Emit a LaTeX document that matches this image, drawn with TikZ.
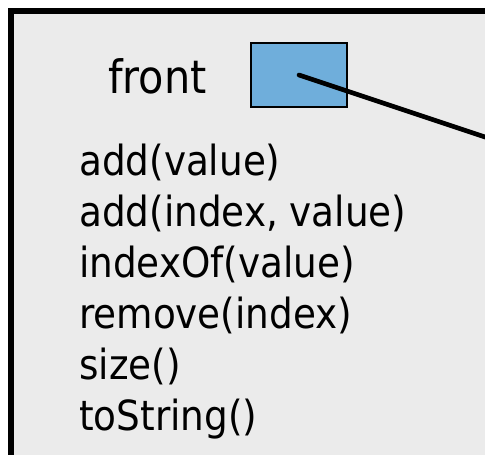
\documentclass[tikz,border=0pt]{standalone}
\usepackage{fontspec}
\setmainfont{DejaVu Sans Condensed}
\definecolor{panelgray}{HTML}{EBEBEB}
\definecolor{cellblue}{HTML}{6FAEDB}
\begin{document}
\begin{tikzpicture}[x=1pt,y=-1pt,
  txt/.style={anchor=base west,inner sep=0pt,font=\fontsize{41.5}{49}\selectfont},
  lbl/.style={anchor=base west,inner sep=0pt,font=\fontsize{46}{54}\selectfont},
  cell/.style={draw=black,line width=2pt,fill=cellblue,minimum width=96pt,minimum height=64pt,inner sep=0pt},
  ptr/.style={line width=4.6pt,line cap=round}]
\useasboundingbox (0,0) rectangle (485,455);
\clip (0,0) rectangle (485,455);
\fill[white] (0,0) rectangle (485,455);
\draw[line width=6pt,fill=panelgray] (11,11) rectangle (520,490);
\node[lbl] (front) at (108,93) {front};
\node[cell] (box) at (299,75) {};
\node[txt] (m1) at (79,175) {add(value)};
\node[txt] (m2) at (79,226) {add(index, value)};
\node[txt] (m3) at (79,277) {indexOf(value)};
\node[txt] (m4) at (79,328) {remove(index)};
\node[txt] (m5) at (79,379) {size()};
\node[txt] (m6) at (79,430) {toString()};
\coordinate (tgt) at (515,147);
\draw[ptr] (box.center) -- (tgt);
\end{tikzpicture}
\end{document}
